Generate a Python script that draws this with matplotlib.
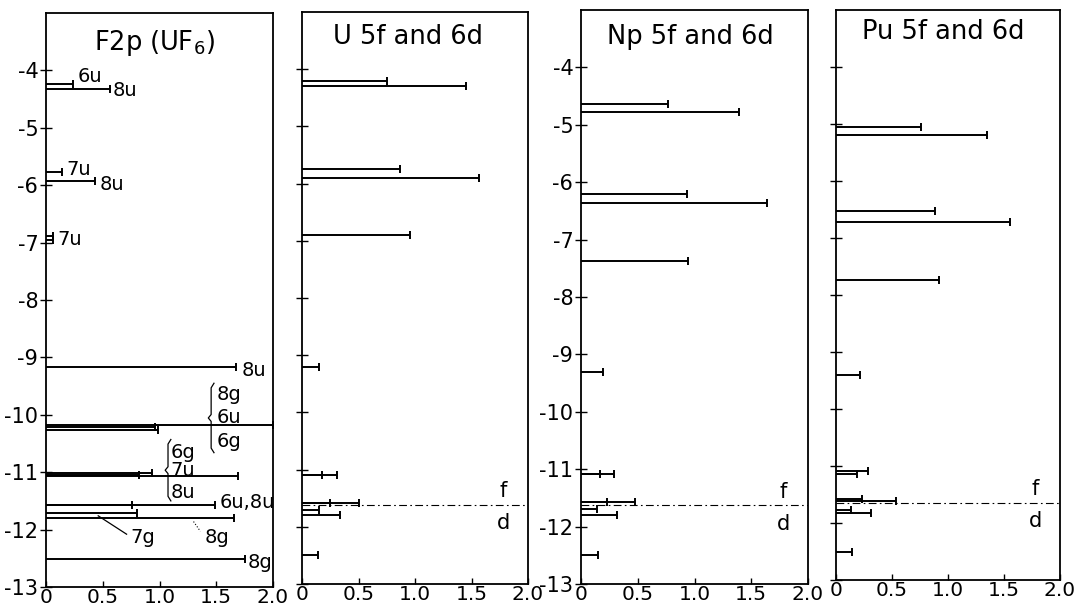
import numpy as np
import matplotlib
matplotlib.use('Agg')
import matplotlib.pyplot as plt

plt.rcParams['font.family'] = ['DejaVu Sans']
plt.rcParams['axes.unicode_minus'] = False

# F2p levels of UF6 (energy, eV) and bar lengths
f2p_energy = [-4.24, -4.32, -5.77, -5.93, -6.88, -6.95, -9.17, -10.17, -10.22, -10.27,
              -11.02, -11.05, -11.07, -11.57, -11.57, -11.71, -11.79, -12.52]
f2p_value = [0.24, 0.56, 0.14, 0.43, 0.06, 0.06, 1.67, 2.0, 0.96, 0.99,
             0.93, 0.82, 1.69, 0.76, 1.49, 0.80, 1.66, 1.75]

# U 5f and 6d
u_energy = [-4.20, -4.29, -5.75, -5.90, -6.90, -9.20, -11.09, -11.09, -11.58, -11.58, -11.71, -11.80, -12.50]
u_value = [0.75, 1.45, 0.87, 1.57, 0.96, 0.15, 0.18, 0.31, 0.25, 0.50, 0.15, 0.34, 0.14]

# Np 5f and 6d
np_energy = [-4.64, -4.77, -6.20, -6.36, -7.37, -9.30, -11.08, -11.08, -11.58, -11.58, -11.70, -11.80, -12.50]
np_value = [0.77, 1.39, 0.93, 1.64, 0.94, 0.19, 0.17, 0.29, 0.23, 0.48, 0.14, 0.32, 0.15]

# Pu 5f and 6d
pu_energy = [-5.05, -5.20, -6.53, -6.72, -7.74, -9.40, -11.08, -11.14, -11.58, -11.62, -11.77, -11.82, -12.50]
pu_value = [0.76, 1.35, 0.88, 1.55, 0.92, 0.21, 0.29, 0.19, 0.23, 0.54, 0.13, 0.31, 0.14]

# f / d boundary for the actinide panels
fd_line = [-11.62, -11.63, -11.65]

titles = ['F2p (UF$_6$)', 'U 5f and 6d', 'Np 5f and 6d', 'Pu 5f and 6d']
yticks = [-4, -5, -6, -7, -8, -9, -10, -11, -12, -13]
xticks = [0, 0.5, 1.0, 1.5, 2.0]
xtick_labels = ['0', '0.5', '1.0', '1.5', '2.0']

# F2p labels: text, x, y
f2p_labels = [('6u', 0.28, -4.11), ('8u', 0.59, -4.35), ('7u', 0.18, -5.72), ('8u', 0.47, -5.98),
              ('7u', 0.10, -6.95), ('8u', 1.72, -9.22), ('8g', 1.50, -9.65), ('6u', 1.50, -10.04),
              ('6g', 1.50, -10.47), ('6g', 1.10, -10.65), ('7u', 1.10, -10.97), ('8u', 1.10, -11.35),
              ('6u,8u', 1.53, -11.53), ('7g', 0.74, -12.14), ('8g', 1.40, -12.14), ('8g', 1.78, -12.57)]


def draw_brace(ax, x, y_top, y_bot, w=0.05):
    ym = (y_top + y_bot) / 2
    bx = [x + w, x + w / 2, x + w / 2, x, x + w / 2, x + w / 2, x + w]
    by = [y_top, y_top - 0.08, ym + 0.06, ym, ym - 0.06, y_bot + 0.08, y_bot]
    ax.plot(bx, by, color='k', lw=0.9)


def setup(ax, title, tx, ty, show_labels):
    ax.set_xlim(0, 2.0)
    ax.set_ylim(-13, -3)
    for s in ax.spines.values():
        s.set_linewidth(1.3)
    ax.set_yticks(yticks)
    if show_labels:
        ax.set_yticklabels([str(t) for t in yticks])
    else:
        ax.set_yticklabels([])
    ax.set_xticks(xticks)
    ax.set_xticklabels(xtick_labels)
    ax.tick_params(axis='y', direction='inout', length=9, width=1.0, labelsize=15, pad=1)
    ax.tick_params(axis='x', direction='in', length=4, width=1.0, labelsize=14.5, pad=1)
    ax.text(tx, ty, title, transform=ax.transAxes, ha='center', va='center', fontsize=18.5)


def draw_bars(ax, energy, value):
    ax.hlines(energy, 0, value, color='k', lw=1.4)
    ax.plot(value, energy, '|', ms=6, mew=1.4, color='k')


fig = plt.figure(figsize=(10.8, 6.09), dpi=100)
H = 609.0
W = 1080.0
ax1 = fig.add_axes([46 / W, 1 - 587 / H, 227 / W, 574 / H])
ax2 = fig.add_axes([302 / W, 1 - 584 / H, 226 / W, 572 / H])
ax3 = fig.add_axes([581 / W, 1 - 584 / H, 227 / W, 574 / H])
ax4 = fig.add_axes([836 / W, 1 - 580 / H, 224 / W, 570 / H])

setup(ax1, titles[0], 0.48, 0.948, True)
setup(ax2, titles[1], 0.47, 0.956, False)
setup(ax3, titles[2], 0.48, 0.953, True)
setup(ax4, titles[3], 0.48, 0.961, False)

# F2p panel
draw_bars(ax1, f2p_energy, f2p_value)
for txt, x, y in f2p_labels:
    ax1.text(x, y, txt, ha='left', va='center', fontsize=14)
draw_brace(ax1, 1.43, -9.45, -10.66)
draw_brace(ax1, 1.05, -10.43, -11.50)
ax1.plot([0.46, 0.71], [-11.76, -12.08], color='k', lw=0.9)
ax1.plot([1.30, 1.36], [-11.86, -12.03], color='k', lw=0.8, ls=':')

# actinide panels
for ax, e, v, fd in [(ax2, u_energy, u_value, fd_line[0]),
                     (ax3, np_energy, np_value, fd_line[1]),
                     (ax4, pu_energy, pu_value, fd_line[2])]:
    draw_bars(ax, e, v)
    ax.axhline(fd, color='k', lw=0.8, ls=(0, (7, 3, 1.5, 3)))
    ax.text(1.78, fd + 0.24, 'f', ha='center', va='center', fontsize=15)
    ax.text(1.78, fd - 0.32, 'd', ha='center', va='center', fontsize=15)

fig.savefig('out.png', dpi=100)
